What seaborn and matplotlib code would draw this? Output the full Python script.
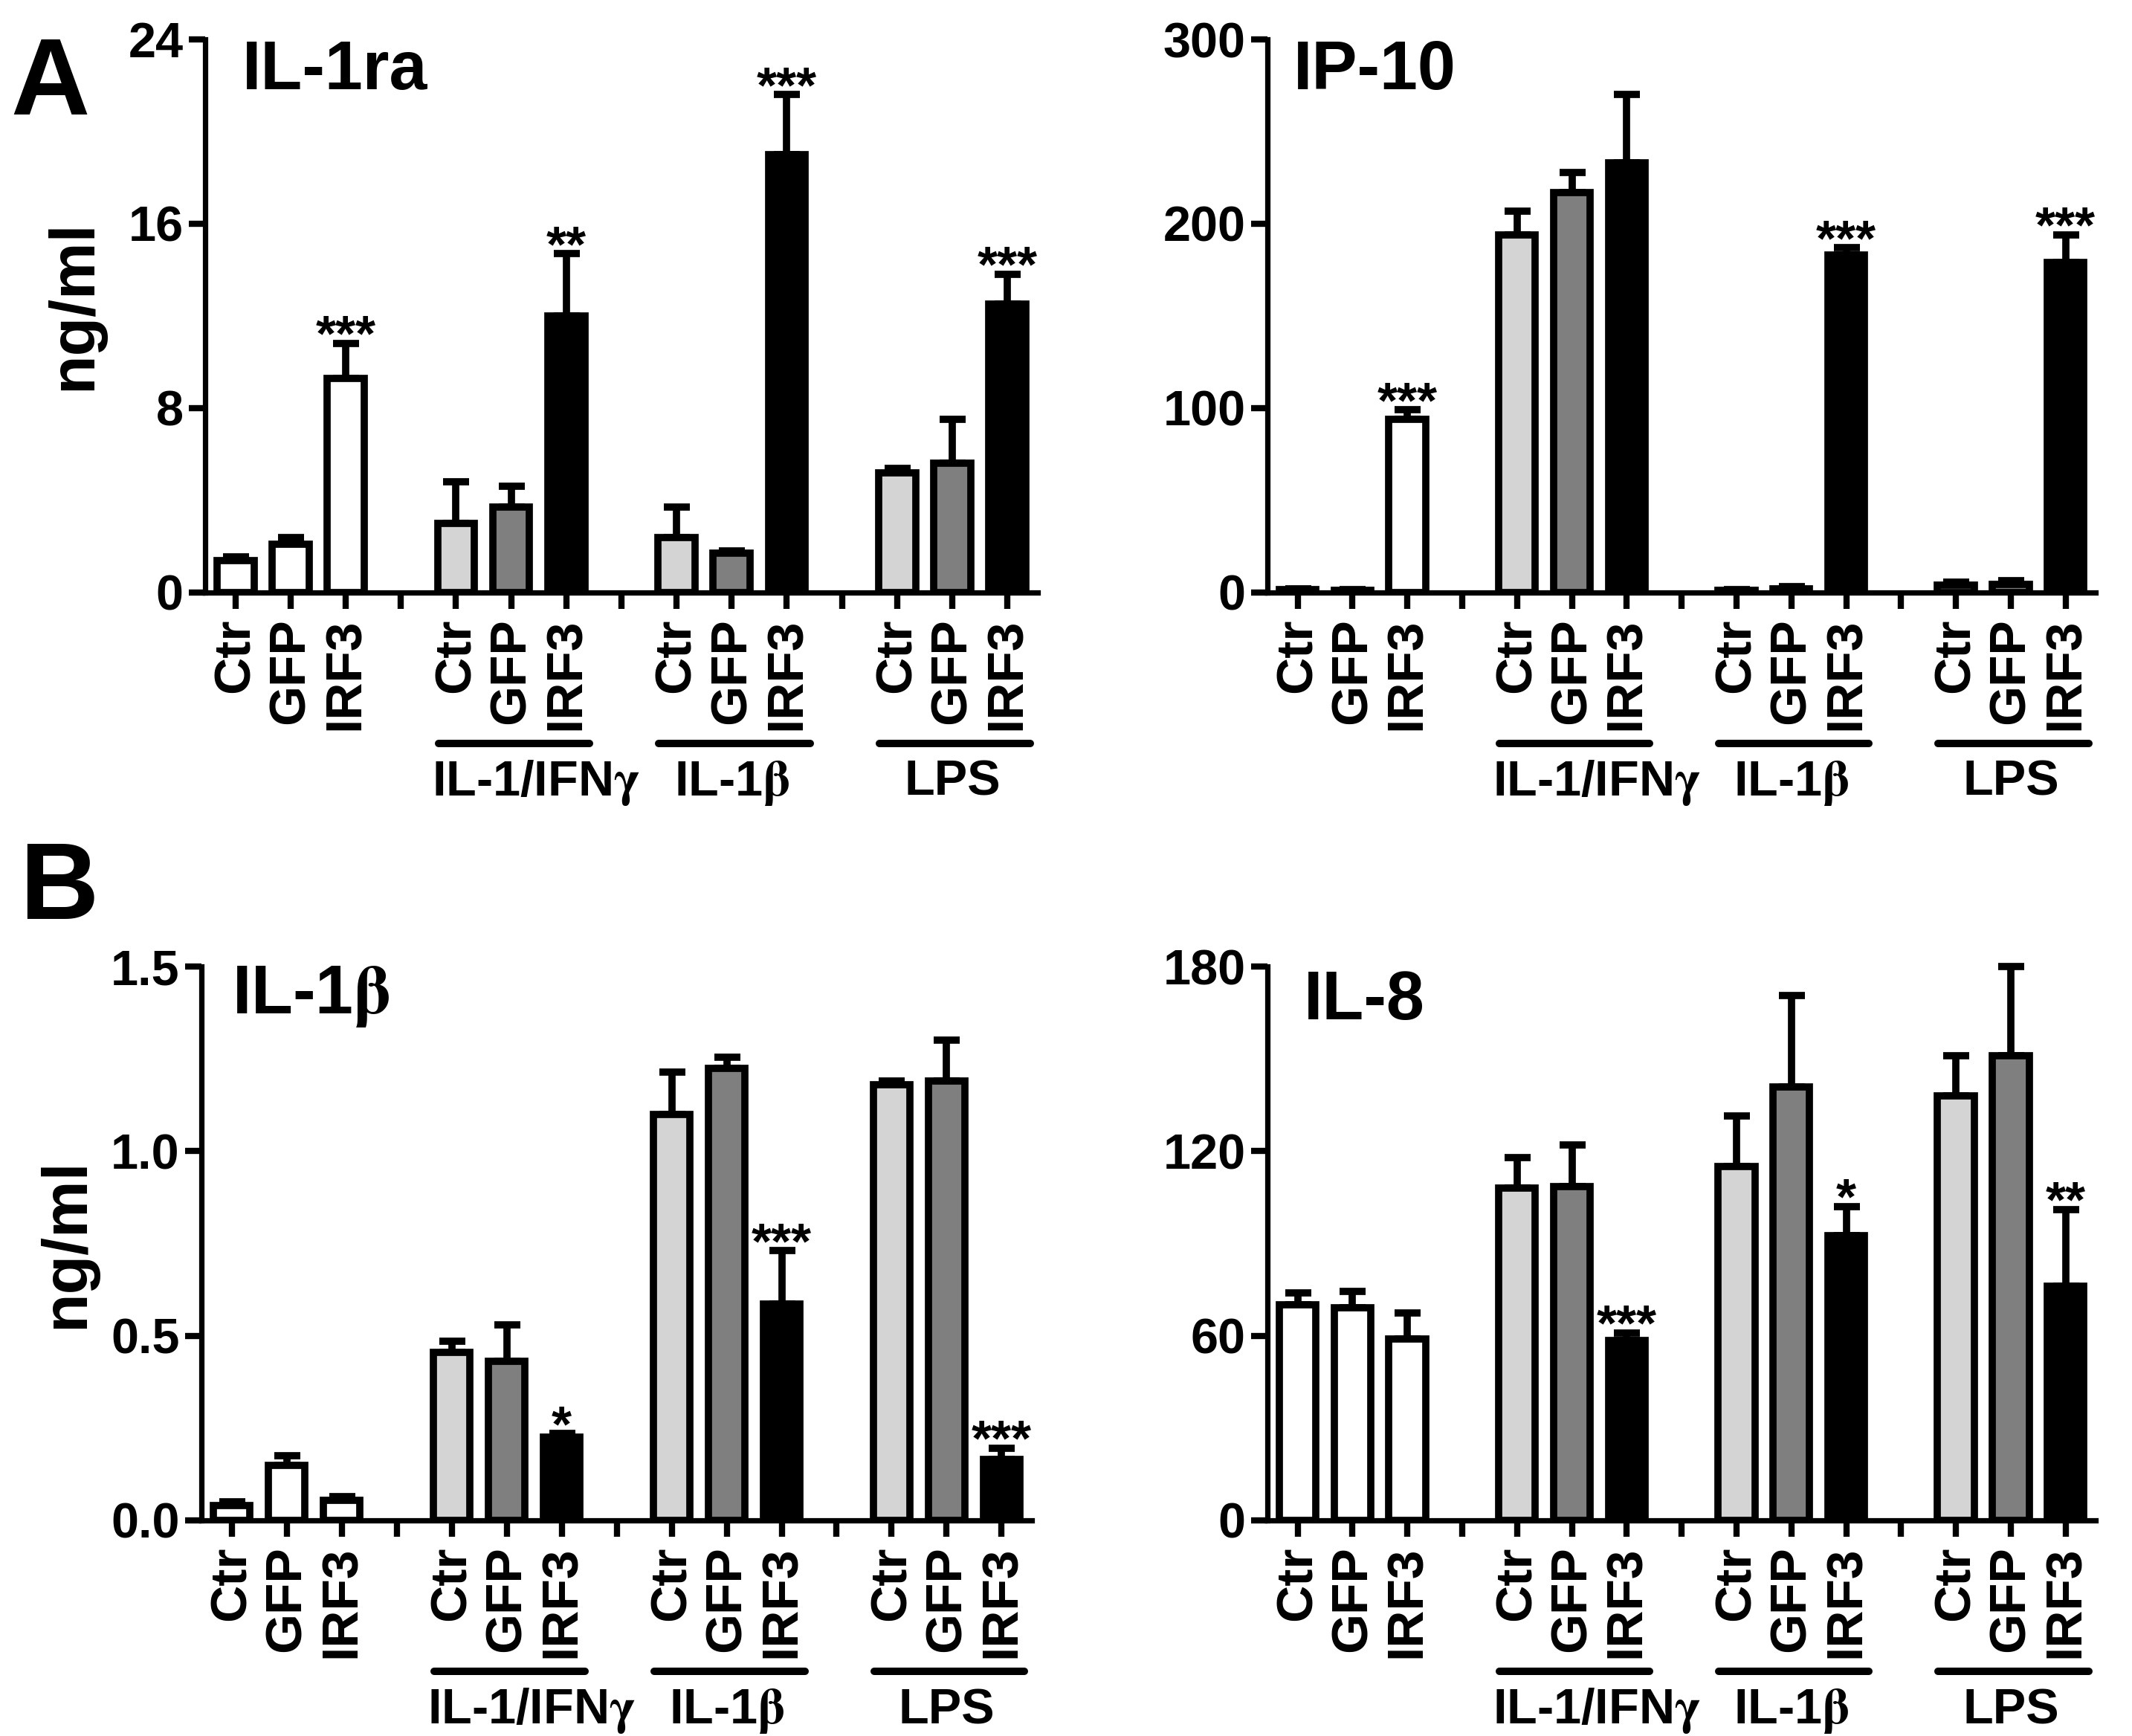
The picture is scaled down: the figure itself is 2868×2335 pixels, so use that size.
import numpy as np
import pandas as pd
import matplotlib
matplotlib.use('Agg')
import matplotlib.pyplot as plt
import matplotlib.transforms as mtransforms
import seaborn as sns

# 4 groups x 3 conditions, an empty slot between groups
conditions = ['Ctr', 'GFP', 'IRF3']
groups = ['none', 'IL-1/IFNg', 'IL-1b', 'LPS']
group_labels = ['', r'IL-1/IFN$\mathrm{\gamma}$', r'IL-1$\mathrm{\beta}$', 'LPS']

# panel A, IL-1ra (ng/ml)
il1ra_mean = [1.4, 2.1, 9.3, 3.0, 3.7, 12.0, 2.4, 1.7, 19.0, 5.2, 5.6, 12.5]
il1ra_sem = [0.15, 0.3, 1.5, 1.8, 0.9, 2.7, 1.3, 0.1, 2.6, 0.2, 1.9, 1.3]
il1ra_stars = ['', '', '***', '', '', '**', '', '', '***', '', '', '***']

# panel A, IP-10
ip10_mean = [1.5, 1.0, 94, 194, 217, 233, 1.0, 2.0, 183, 4.0, 4.5, 179]
ip10_sem = [0.5, 0.5, 5, 13, 11, 37, 0.5, 1.0, 4, 1.5, 2.0, 15]
ip10_stars = ['', '', '***', '', '', '', '', '', '***', '', '', '***']

# panel B, IL-1beta
il1b_mean = [0.04, 0.15, 0.055, 0.455, 0.43, 0.225, 1.10, 1.225, 0.585, 1.18, 1.19, 0.165]
il1b_sem = [0.01, 0.025, 0.01, 0.03, 0.10, 0.01, 0.115, 0.03, 0.145, 0.01, 0.11, 0.03]
il1b_stars = ['', '', '', '', '', '*', '', '', '***', '', '', '***']

# panel B, IL-8
il8_mean = [70, 69, 59, 108, 108.5, 58.5, 115, 141, 92.5, 138, 151, 76]
il8_sem = [4, 5.5, 8.5, 10, 13.5, 2.5, 16.5, 29.5, 9.5, 13, 29, 25]
il8_stars = ['', '', '', '', '', '***', '', '', '*', '', '', '**']

shade_colors = {'white': 'white', 'light': '#d4d4d4', 'dark': '#7f7f7f', 'black': 'black'}

sns.set_theme(style='ticks')
plt.rcParams['font.family'] = ['Liberation Sans', 'DejaVu Sans']
plt.rcParams['font.weight'] = 'bold'
plt.rcParams['mathtext.fontset'] = 'stix'
plt.rcParams['text.color'] = 'black'
plt.rcParams['xtick.color'] = 'black'
plt.rcParams['ytick.color'] = 'black'
plt.rcParams['axes.edgecolor'] = 'black'

# category order with spacers
order = []
slot_keys = []
shades = []
for gi, g in enumerate(groups):
    for c in conditions:
        key = g + '|' + c
        order.append(key)
        slot_keys.append(key)
        if g == 'none':
            shades.append('white')
        else:
            shades.append({'Ctr': 'light', 'GFP': 'dark', 'IRF3': 'black'}[c])
    if gi < len(groups) - 1:
        order.append('gap%d' % gi)

tick_text = [k.split('|')[1] if '|' in k else '' for k in order]


def draw_panel(ax, title, means, sems, stars, yticks, ylabels, tx, ty):
    df = pd.DataFrame({'slot': slot_keys, 'value': means, 'shade': shades})
    sns.barplot(data=df, x='slot', y='value', hue='shade', palette=shade_colors,
                order=order, dodge=False, legend=False, errorbar=None, width=0.67,
                edgecolor='black', linewidth=3.5, ax=ax, zorder=2)
    xpos = [order.index(k) for k in slot_keys]
    ax.errorbar(xpos, means, yerr=[np.zeros(len(means)), sems], fmt='none',
                ecolor='black', elinewidth=3.5, capsize=6.3, capthick=3.5, zorder=1.5,
                clip_on=False)
    for x, m, s, st in zip(xpos, means, sems, stars):
        if st:
            ax.annotate(st, (x, m + s), xytext=(0, -3.5), textcoords='offset points',
                        ha='center', va='baseline', fontsize=25, fontweight='bold',
                        annotation_clip=False)

    ax.set_xlim(-0.55, len(order) - 1 + 0.55)
    ax.set_ylim(yticks[0], yticks[-1])
    ax.set_yticks(yticks)
    ax.set_yticklabels(ylabels, fontsize=24, fontweight='bold')
    ax.set_xticks(range(len(order)))
    ax.set_xticklabels(tick_text, rotation=90, fontsize=25, fontweight='bold')
    ax.tick_params(axis='x', length=8, width=3, pad=4.5, color='black', labelcolor='black')
    ax.tick_params(axis='y', length=8, width=3, pad=2.5, color='black', labelcolor='black')
    ax.set_xlabel('')
    ax.set_ylabel('')
    sns.despine(ax=ax)
    for sp in ['left', 'bottom']:
        ax.spines[sp].set_linewidth(2.6)
        ax.spines[sp].set_color('black')
    ax.text(tx, ty, title, transform=ax.transAxes, fontsize=33, fontweight='bold',
            ha='left', va='baseline')

    # treatment lines and labels under the tick labels
    trans = mtransforms.blended_transform_factory(ax.transData, ax.transAxes)
    for gi in range(1, len(groups)):
        start = gi * 4
        ax.plot([start - 0.32, start + 2.42], [-0.273, -0.273], transform=trans,
                color='black', lw=3.6, solid_capstyle='round', clip_on=False)
        cx = start + 1 + (0.45 if gi == 1 else 0)
        ax.text(cx, -0.367, group_labels[gi], transform=trans, ha='center',
                va='baseline', fontsize=24, fontweight='bold')


fig = plt.figure(figsize=(14.34, 11.675), dpi=200)
ax1 = fig.add_axes([0.0962, 0.6587, 0.3905, 0.3186])
ax2 = fig.add_axes([0.5945, 0.6587, 0.3885, 0.3186])
ax3 = fig.add_axes([0.0945, 0.1242, 0.3895, 0.319])
ax4 = fig.add_axes([0.5945, 0.1242, 0.3885, 0.319])

draw_panel(ax1, 'IL-1ra', il1ra_mean, il1ra_sem, il1ra_stars,
           [0, 8, 16, 24], ['0', '8', '16', '24'], 0.045, 0.91)
draw_panel(ax2, 'IP-10', ip10_mean, ip10_sem, ip10_stars,
           [0, 100, 200, 300], ['0', '100', '200', '300'], 0.031, 0.91)
draw_panel(ax3, r'IL-1$\mathrm{\beta}$', il1b_mean, il1b_sem, il1b_stars,
           [0, 0.5, 1.0, 1.5], ['0.0', '0.5', '1.0', '1.5'], 0.037, 0.915)
draw_panel(ax4, 'IL-8', il8_mean, il8_sem, il8_stars,
           [0, 60, 120, 180], ['0', '60', '120', '180'], 0.044, 0.905)

fig.text(0.035, 0.8244, 'ng/ml', rotation=90, fontsize=31, fontweight='bold',
         ha='center', va='center')
fig.text(0.0314, 0.284, 'ng/ml', rotation=90, fontsize=31, fontweight='bold',
         ha='center', va='center')
fig.text(0.005, 0.934, 'A', fontsize=53, fontweight='bold', va='baseline')
fig.text(0.009, 0.4707, 'B', fontsize=53, fontweight='bold', va='baseline')

fig.savefig('out.png', dpi=200)
